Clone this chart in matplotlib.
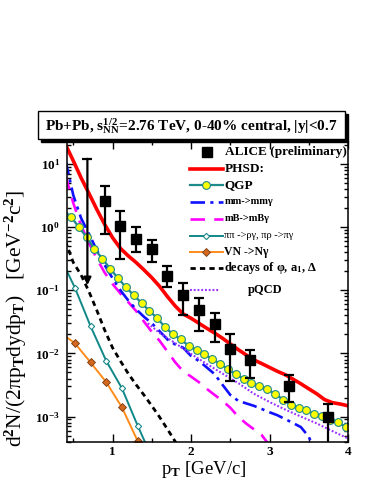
import numpy as np
import matplotlib
matplotlib.use("Agg")
import matplotlib.pyplot as plt
from matplotlib import ticker
from matplotlib.patches import Rectangle

plt.rcParams['font.family'] = ['Liberation Serif', 'DejaVu Serif']
plt.rcParams['font.weight'] = 'bold'
plt.rcParams['mathtext.fontset'] = 'custom'
plt.rcParams['mathtext.rm'] = 'Liberation Serif:bold'
plt.rcParams['mathtext.it'] = 'Liberation Serif:bold'
plt.rcParams['mathtext.bf'] = 'Liberation Serif:bold'
plt.rcParams['mathtext.default'] = 'rm'

# ALICE (preliminary) -- 値, 誤差の下端, 上端
alice_pt = [0.9, 1.1, 1.3, 1.5, 1.7, 1.9, 2.1, 2.3, 2.5, 2.75, 3.25, 3.75]
alice_y = [2.6, 1.05, 0.64, 0.45, 0.169, 0.083, 0.049, 0.029, 0.0118, 0.0078, 0.0030, 0.0010]
alice_lo = [0.78, 0.31, 0.40, 0.28, 0.112, 0.040, 0.023, 0.015, 0.0036, 0.0041, 0.0017, 0.0001]
alice_hi = [4.4, 1.8, 1.0, 0.62, 0.24, 0.128, 0.074, 0.043, 0.0205, 0.0115, 0.0045, 0.0016]
# upper limit (arrow)
ul_pt = 0.68
ul_top = 12.0
ul_tip = 0.12

# PHSD total
phsd_pt = [0.4, 0.5, 0.6, 0.7, 0.8, 0.9, 1.0, 1.1, 1.2, 1.3, 1.4, 1.5, 1.6, 1.7, 1.8, 1.9,
           2.0, 2.1, 2.2, 2.3, 2.4, 2.5, 2.6, 2.7, 2.8, 2.9, 3.0, 3.1, 3.2, 3.3, 3.4, 3.5,
           3.6, 3.7, 3.8, 3.9, 4.0]
phsd_y = [20.4, 11.2, 6.0, 3.4, 1.9, 1.1, 0.68, 0.46, 0.35, 0.275, 0.21, 0.158, 0.115, 0.079,
          0.056, 0.042, 0.036, 0.030, 0.025, 0.021, 0.0174, 0.0141, 0.0115, 0.0095, 0.0079,
          0.0069, 0.0060, 0.0052, 0.0046, 0.0039, 0.0033, 0.00275, 0.0023, 0.00186, 0.00166,
          0.00158, 0.00148]

# QGP
qgp_pt = [0.37, 0.47, 0.57, 0.67, 0.77, 0.87, 0.97, 1.07, 1.17, 1.27, 1.37, 1.47, 1.57, 1.67,
          1.77, 1.87, 1.97, 2.07, 2.17, 2.27, 2.37, 2.47, 2.57, 2.67, 2.77, 2.87, 2.97, 3.07,
          3.17, 3.27, 3.37, 3.47, 3.57, 3.67, 3.77, 3.87, 3.97, 4.07]
qgp_y = [1.86, 1.46, 1.0, 0.69, 0.45, 0.316, 0.219, 0.155, 0.112, 0.083, 0.063, 0.047, 0.036,
         0.026, 0.020, 0.0166, 0.0132, 0.0112, 0.0098, 0.0081, 0.0069, 0.0056, 0.0047, 0.0040,
         0.0034, 0.0030, 0.0027, 0.0023, 0.00186, 0.00155, 0.00138, 0.00126, 0.0011, 0.00102,
         0.00089, 0.00081, 0.00069, 0.0006]

# mm -> mm gamma
mm_pt = [0.4, 0.5, 0.6, 0.7, 0.8, 0.9, 1.0, 1.1, 1.2, 1.3, 1.4, 1.5, 1.6, 1.7, 1.8, 1.9, 2.0,
         2.1, 2.2, 2.3, 2.4, 2.5, 2.6, 2.7, 2.8, 2.9, 3.0, 3.1, 3.2, 3.3, 3.4, 3.5, 3.6]
mm_y = [11.5, 3.2, 1.38, 0.78, 0.43, 0.25, 0.155, 0.10, 0.069, 0.050, 0.038, 0.030, 0.0224,
        0.0166, 0.0138, 0.0123, 0.0091, 0.0076, 0.006, 0.0047, 0.0032, 0.0022, 0.00178,
        0.00162, 0.00148, 0.00132, 0.00117, 0.00105, 0.00091, 0.00079, 0.00068, 0.00048, 0.00025]

# mB -> mB gamma
mb_pt = [0.4, 0.5, 0.6, 0.7, 0.8, 0.9, 1.0, 1.1, 1.2, 1.3, 1.4, 1.5, 1.6, 1.7, 1.8, 1.9, 2.0,
         2.1, 2.2, 2.3, 2.4, 2.5, 2.6, 2.7, 2.8, 2.9, 3.0]
mb_y = [6.6, 2.4, 1.05, 0.56, 0.316, 0.19, 0.126, 0.089, 0.065, 0.047, 0.032, 0.022, 0.0158,
        0.0107, 0.0072, 0.0052, 0.0043, 0.0035, 0.00275, 0.0022, 0.00178, 0.00138, 0.001,
        0.00078, 0.00063, 0.00051, 0.00035]

# pi pi -> rho gamma, pi rho -> pi gamma
pipi_pt = [0.32, 0.52, 0.72, 0.92, 1.12, 1.32, 1.52]
pipi_y = [0.36, 0.11, 0.027, 0.0076, 0.0028, 0.00072, 0.0002]

# VN -> N gamma
vn_pt = [0.32, 0.52, 0.72, 0.92, 1.12, 1.32, 1.52]
vn_y = [0.022, 0.0145, 0.0072, 0.0035, 0.0014, 0.00041, 0.0001]

# decays of phi, a1, Delta
dec_pt = [0.4, 0.5, 0.6, 0.7, 0.8, 0.9, 1.0, 1.1, 1.2, 1.3, 1.4, 1.5, 1.6, 1.7, 1.8, 1.9]
dec_y = [0.60, 0.275, 0.174, 0.095, 0.048, 0.0234, 0.0123, 0.0076, 0.0048, 0.0032, 0.0022,
         0.00148, 0.00098, 0.00063, 0.0004, 0.00025]

# pQCD
pqcd_pt = [1.45, 1.6, 1.8, 2.0, 2.2, 2.4, 2.6, 2.8, 3.0, 3.2, 3.4, 3.6, 3.8, 4.0]
pqcd_y = [0.030, 0.021, 0.0145, 0.0098, 0.0068, 0.0048, 0.0034, 0.0023, 0.0017, 0.00129,
          0.001, 0.00078, 0.00059, 0.00045]

teal = '#1f8a8a'
styles = {
    'phsd': dict(color='#ff0000', lw=2.6),
    'qgp': dict(color=teal, lw=1.6, marker='o', ms=5.6, mfc='#ffff00', mec=teal, mew=0.8),
    'mm': dict(color='#1010ff', lw=1.9, dashes=(5.5, 2.0, 1.2, 2.0)),
    'mb': dict(color='#ff00ff', lw=1.9, dashes=(5.5, 3.5)),
    'pipi': dict(color='#108888', lw=1.4, marker='D', ms=3.2, mfc='white', mec=teal, mew=0.8),
    'vn': dict(color='#ff8c1a', lw=1.4, marker='D', ms=3.6, mfc='#d2691e', mec='#7a3a10', mew=0.6),
    'dec': dict(color='black', lw=2.0, dashes=(1.9, 1.5)),
    'pqcd': dict(color='#9933ff', lw=1.5, dashes=(0.9, 0.9)),
}

fig = plt.figure(figsize=(3.74, 4.84), dpi=100)
ax = fig.add_axes([0.1791, 0.0874, 0.7514, 0.6213])
ax.set_yscale('log')

ax.plot(dec_pt, dec_y, **styles['dec'])
ax.plot(vn_pt, vn_y, **styles['vn'])
ax.plot(pipi_pt, pipi_y, **styles['pipi'])
ax.plot(mb_pt, mb_y, **styles['mb'])
ax.plot(mm_pt, mm_y, **styles['mm'])
ax.plot(pqcd_pt, pqcd_y, **styles['pqcd'])
ax.plot(qgp_pt, qgp_y, markevery=slice(1, len(qgp_pt) - 1), **styles['qgp'])
ax.plot(phsd_pt, phsd_y, **styles['phsd'])

a_y = np.array(alice_y)
yerr = [a_y - np.array(alice_lo), np.array(alice_hi) - a_y]
ax.errorbar(alice_pt, alice_y, yerr=yerr, fmt='s', color='black', ms=6.5,
            elinewidth=1.6, capsize=3.6, capthick=1.6, zorder=5)
ax.annotate('', xy=(ul_pt, ul_tip), xytext=(ul_pt, ul_top),
            arrowprops=dict(arrowstyle='-|>', color='black', lw=1.6, mutation_scale=11,
                            shrinkA=0, shrinkB=0), zorder=5)
ax.plot([ul_pt], [ul_top], marker='_', ms=7.2, mew=1.6, color='black', zorder=5)

ax.set_xlim(0.42, 4.0)
ax.set_ylim(4.0e-4, 23)
ax.xaxis.set_major_locator(ticker.MultipleLocator(1))
ax.xaxis.set_minor_locator(ticker.MultipleLocator(0.5))
ax.yaxis.set_major_locator(ticker.LogLocator(base=10, numticks=20))
ax.yaxis.set_minor_locator(ticker.LogLocator(base=10, subs=np.arange(2, 10), numticks=20))
ax.yaxis.set_minor_formatter(ticker.NullFormatter())
ax.yaxis.set_major_formatter(ticker.FuncFormatter(
    lambda v, p: r'$10^{%d}$' % int(round(np.log10(v)))))
ax.tick_params(which='both', direction='in', top=True, right=True, width=1.0)
ax.tick_params(which='major', length=5.5)
ax.tick_params(which='minor', length=3)
ax.tick_params(axis='y', labelsize=9.5, pad=5)
ax.tick_params(axis='x', labelsize=9.5, pad=3)
for s in ax.spines.values():
    s.set_linewidth(1.1)

ax.set_xlabel(r'p$_T$ [GeV/c]', fontsize=13.5, va='center')
ax.xaxis.set_label_coords(0.4875, -0.094)
ax.set_ylabel(r'd$^2$N/(2πp$_T$dydp$_T$)   [GeV$^{-2}$c$^2$]', fontsize=15.5, va='center')
ax.yaxis.set_label_coords(-0.18, 0.41)

# 凡例 (手で配置)
tr = ax.transAxes
entries = [
    (0.9624, 'ALICE (preliminary)', None, 9.5, 'bold'),
    (0.9069, 'PHSD:', 'phsd', 9.5, 'bold'),
    (0.8537, 'QGP', 'qgp', 9.5, 'bold'),
    (0.7981, 'mm->mmγ', 'mm', 7.5, 'bold'),
    (0.7406, 'mB->mBγ', 'mb', 7.5, 'bold'),
    (0.6851, 'ππ ->ργ, πρ ->πγ', 'pipi', 7.5, 'normal'),
    (0.6319, 'VN ->Nγ', 'vn', 8.5, 'bold'),
    (0.5767, r'decays of φ, a$_1$, Δ', 'dec', 9.0, 'bold'),
]
hx0, hx1, tx = 0.4377, 0.5541, 0.5600
for yy, label, key, fs, fw in entries:
    if key is None:
        ax.plot([0.4972], [yy], 's', color='black', ms=6.5, transform=tr, clip_on=False)
        ax.text(0.5623, yy, label, transform=tr, fontsize=fs, fontweight=fw, va='center')
        continue
    st = dict(styles[key])
    has_marker = 'marker' in st
    if has_marker:
        mk = {k: st.pop(k) for k in ['marker', 'ms', 'mfc', 'mec', 'mew']}
        ax.plot([hx0, hx1], [yy, yy], transform=tr, clip_on=False, **st)
        ax.plot([0.494], [yy], transform=tr, clip_on=False, ls='none',
                marker=mk['marker'], ms=mk['ms'], mfc=mk['mfc'], mec=mk['mec'], mew=mk['mew'])
    else:
        ax.plot([hx0, hx1], [yy, yy], transform=tr, clip_on=False, **st)
    ax.text(tx, yy, label, transform=tr, fontsize=fs, fontweight=fw, va='center')

ax.plot([0.4377, 0.5445], [0.5045, 0.5045], transform=tr, clip_on=False, **styles['pqcd'])
ax.text(0.644, 0.5045, 'pQCD', transform=tr, fontsize=9.0, va='center')

# タイトルの箱 (影付き)
bx, by, bw, bh = 0.1016, 0.7128, 0.8209, 0.0579
fig.add_artist(Rectangle((bx + 0.008, by - 0.0062), bw, bh, transform=fig.transFigure,
                         facecolor='black', edgecolor='black', zorder=3))
fig.add_artist(Rectangle((bx, by), bw, bh, transform=fig.transFigure,
                         facecolor='white', edgecolor='black', lw=1.0, zorder=4))
fig.text(bx + bw / 2, by + bh / 2 - 0.002,
         r'Pb+Pb, s$_{NN}^{1/2}$=2.76 TeV, 0-40% central, |y|<0.7',
         ha='center', va='center', fontsize=11, zorder=5)

fig.savefig('out.png', dpi=100)
